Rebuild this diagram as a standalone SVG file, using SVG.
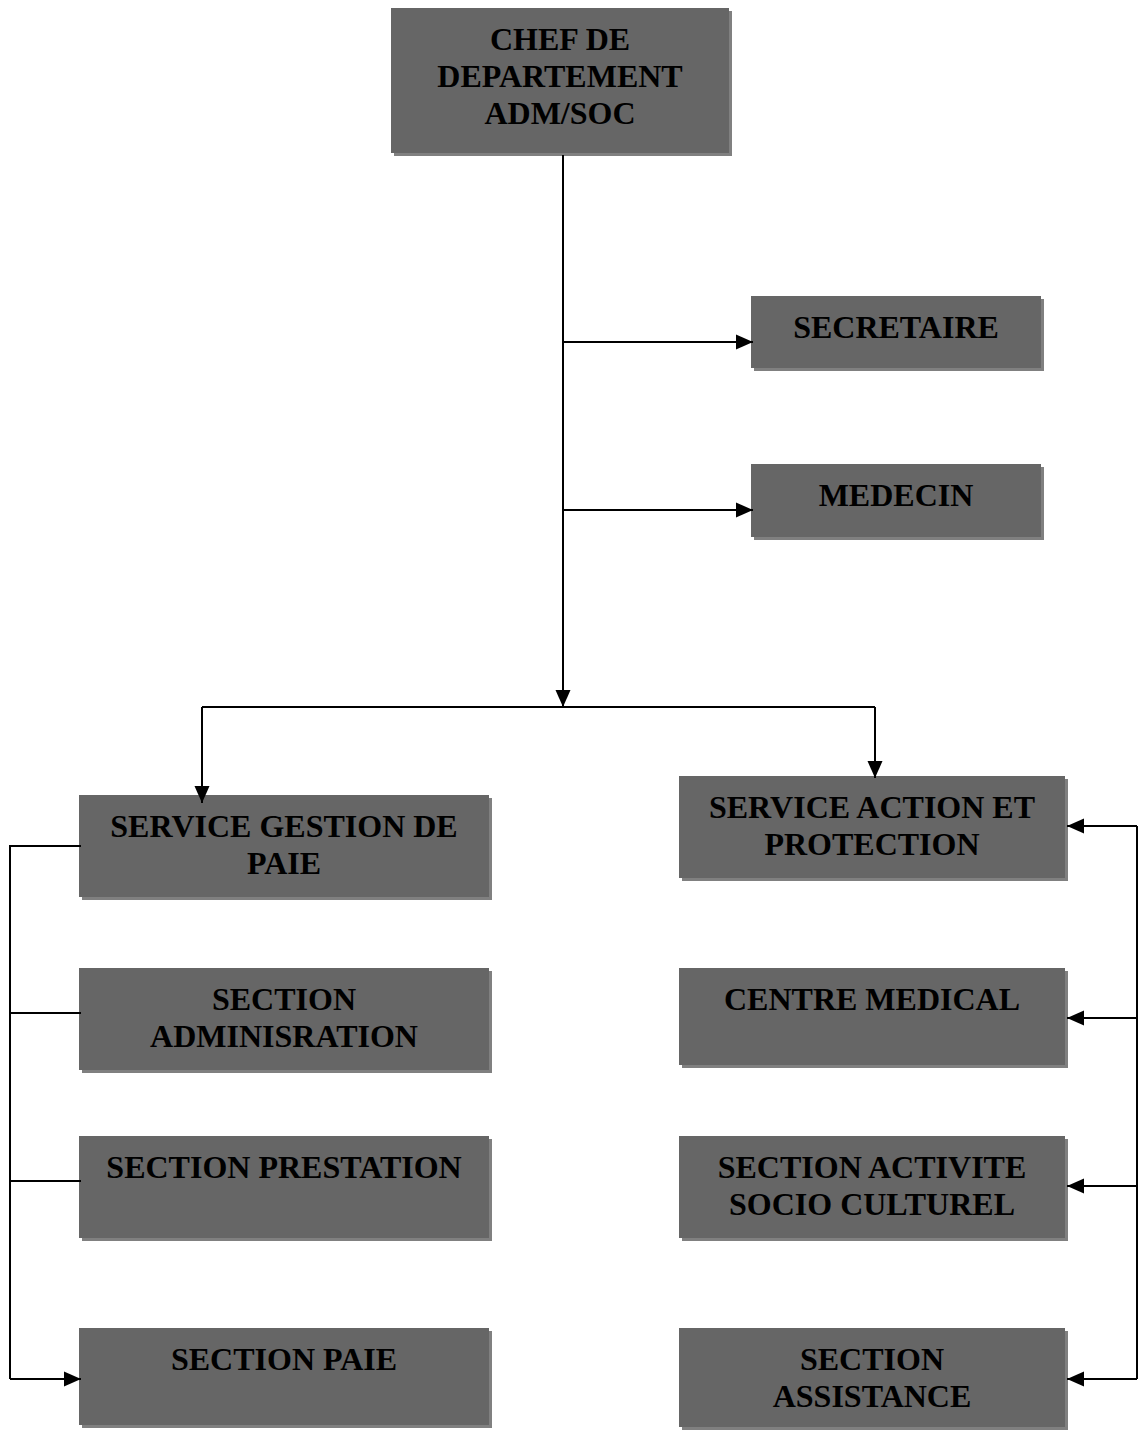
<svg xmlns="http://www.w3.org/2000/svg" width="1138" height="1430" viewBox="0 0 1138 1430">
  <style>
    .shadow { fill: #808080; }
    .box { fill: #666666; }
    .label { font-family: "Liberation Serif", "Times New Roman", serif; font-weight: bold; font-size: 32px; fill: #000000; text-anchor: middle; }
    .wire { fill: none; stroke: #000000; stroke-width: 2; }
  </style>
  <defs>
    <marker id="arrow" markerUnits="userSpaceOnUse" markerWidth="17" markerHeight="17" viewBox="0 0 17 17" refX="17" refY="8.5" orient="auto">
      <path d="M0,1 L17,8.5 L0,16 Z" fill="#000000"/>
    </marker>
  </defs>
  <rect width="1138" height="1430" fill="#ffffff"/>

  <g id="chef">
    <rect class="shadow" x="394" y="11" width="338" height="145"/>
    <rect class="box" x="391" y="8" width="338" height="145"/>
    <text class="label" x="560" y="50">CHEF DE</text>
    <text class="label" x="560" y="87">DEPARTEMENT</text>
    <text class="label" x="560" y="124">ADM/SOC</text>
  </g>

  <g id="secretaire">
    <rect class="shadow" x="754" y="299" width="290" height="72"/>
    <rect class="box" x="751" y="296" width="290" height="72"/>
    <text class="label" x="896" y="338">SECRETAIRE</text>
  </g>

  <g id="medecin">
    <rect class="shadow" x="754" y="467" width="290" height="73"/>
    <rect class="box" x="751" y="464" width="290" height="73"/>
    <text class="label" x="896" y="506">MEDECIN</text>
  </g>

  <g id="service-gestion-paie">
    <rect class="shadow" x="82" y="798" width="410" height="102"/>
    <rect class="box" x="79" y="795" width="410" height="102"/>
    <text class="label" x="284" y="837">SERVICE GESTION DE</text>
    <text class="label" x="284" y="874">PAIE</text>
  </g>

  <g id="section-administration">
    <rect class="shadow" x="82" y="971" width="410" height="102"/>
    <rect class="box" x="79" y="968" width="410" height="102"/>
    <text class="label" x="284" y="1010">SECTION</text>
    <text class="label" x="284" y="1047">ADMINISRATION</text>
  </g>

  <g id="section-prestation">
    <rect class="shadow" x="82" y="1139" width="410" height="102"/>
    <rect class="box" x="79" y="1136" width="410" height="102"/>
    <text class="label" x="284" y="1178">SECTION PRESTATION</text>
  </g>

  <g id="section-paie">
    <rect class="shadow" x="82" y="1331" width="410" height="97"/>
    <rect class="box" x="79" y="1328" width="410" height="97"/>
    <text class="label" x="284" y="1370">SECTION PAIE</text>
  </g>

  <g id="service-action-protection">
    <rect class="shadow" x="682" y="779" width="386" height="102"/>
    <rect class="box" x="679" y="776" width="386" height="102"/>
    <text class="label" x="872" y="818">SERVICE ACTION ET</text>
    <text class="label" x="872" y="855">PROTECTION</text>
  </g>

  <g id="centre-medical">
    <rect class="shadow" x="682" y="971" width="386" height="97"/>
    <rect class="box" x="679" y="968" width="386" height="97"/>
    <text class="label" x="872" y="1010">CENTRE MEDICAL</text>
  </g>

  <g id="section-activite">
    <rect class="shadow" x="682" y="1139" width="386" height="102"/>
    <rect class="box" x="679" y="1136" width="386" height="102"/>
    <text class="label" x="872" y="1178">SECTION ACTIVITE</text>
    <text class="label" x="872" y="1215">SOCIO CULTUREL</text>
  </g>

  <g id="section-assistance">
    <rect class="shadow" x="682" y="1331" width="386" height="99"/>
    <rect class="box" x="679" y="1328" width="386" height="99"/>
    <text class="label" x="872" y="1370">SECTION</text>
    <text class="label" x="872" y="1407">ASSISTANCE</text>
  </g>

  <!-- connectors, drawn over the boxes -->
  <g id="connectors">
    <path class="wire" d="M563,155 V707" marker-end="url(#arrow)"/>
    <path class="wire" d="M563,342 H753" marker-end="url(#arrow)"/>
    <path class="wire" d="M563,510 H753" marker-end="url(#arrow)"/>
    <path class="wire" d="M202,707 H875"/>
    <path class="wire" d="M202,707 V803" marker-end="url(#arrow)"/>
    <path class="wire" d="M875,707 V778" marker-end="url(#arrow)"/>
    <path class="wire" d="M81,846 H10 V1379"/>
    <path class="wire" d="M10,1013 H81"/>
    <path class="wire" d="M10,1181 H81"/>
    <path class="wire" d="M10,1379 H81" marker-end="url(#arrow)"/>
    <path class="wire" d="M1137,826 V1379"/>
    <path class="wire" d="M1137,826 H1067" marker-end="url(#arrow)"/>
    <path class="wire" d="M1137,1018 H1067" marker-end="url(#arrow)"/>
    <path class="wire" d="M1137,1186 H1067" marker-end="url(#arrow)"/>
    <path class="wire" d="M1137,1379 H1067" marker-end="url(#arrow)"/>
  </g>
</svg>
